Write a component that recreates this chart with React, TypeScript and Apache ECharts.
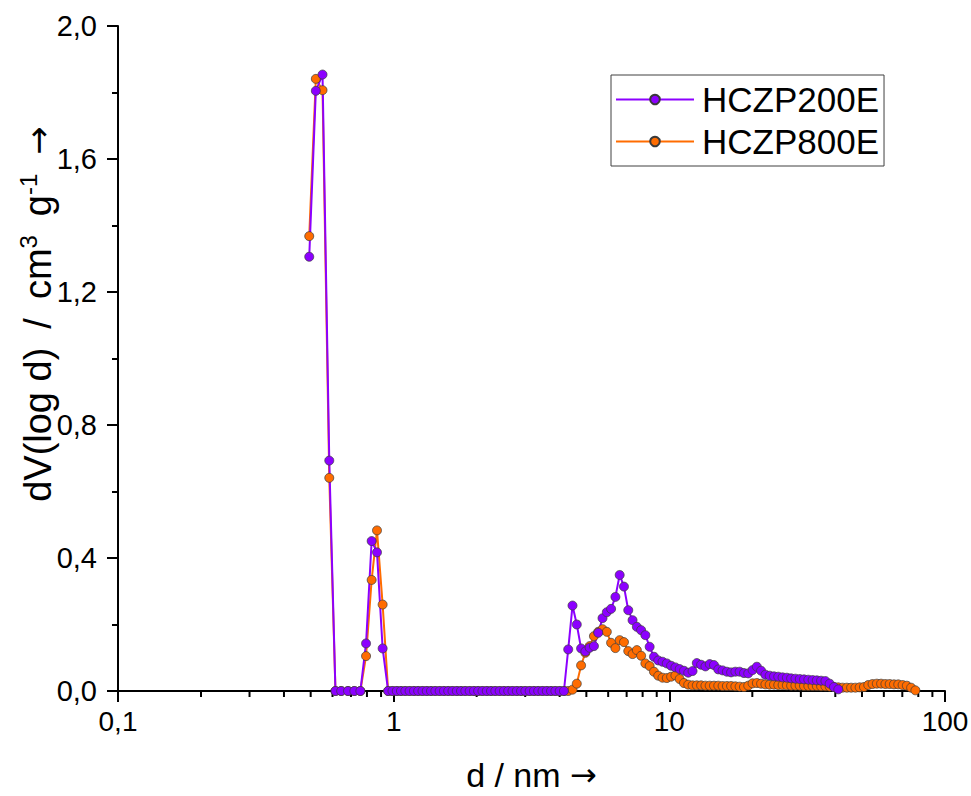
import React, { useEffect, useRef } from 'react';
import * as echarts from 'echarts';

// pore diameter d / nm (shared x grid of both samples)
const poreDiameter = [
  0.494, 0.522, 0.552, 0.584, 0.615, 0.645, 0.683, 0.720, 0.757, 0.794, 0.832, 0.870, 0.912,
  0.955, 0.990, 1.026, 1.063, 1.102, 1.142, 1.184, 1.227, 1.272, 1.318, 1.366, 1.416, 1.468, 1.521,
  1.577, 1.634, 1.694, 1.755, 1.819, 1.886, 1.954, 2.025, 2.099, 2.176, 2.255, 2.337, 2.423, 2.511,
  2.603, 2.697, 2.796, 2.898, 3.003, 3.113, 3.226, 3.344, 3.466, 3.592, 3.723, 3.859, 4.000, 4.146,
  4.297, 4.454, 4.616, 4.785, 4.959, 5.140, 5.327, 5.522, 5.723, 5.932, 6.148, 6.373, 6.605, 6.846,
  7.096, 7.355, 7.623, 7.901, 8.185, 8.484, 8.794, 9.115, 9.445, 9.789,
  10.15, 10.52, 10.90, 11.30, 11.71, 12.14, 12.58, 13.04, 13.52, 14.01, 14.52, 15.05, 15.60, 16.17,
  16.75, 17.36, 17.99, 18.65, 19.33, 20.04, 20.77, 21.52, 22.31, 23.12, 23.97, 24.84, 25.75, 26.69,
  27.66, 28.67, 29.72, 30.80, 31.93, 33.09, 34.28, 35.53, 36.83, 38.17, 39.56, 41.01,
  42.50, 44.05, 45.65, 47.31, 49.03, 50.82, 52.67, 54.59, 56.58, 58.64, 60.78, 62.99, 65.29, 67.67,
  70.15, 72.70, 75.35, 78.10,
];

// dV(log d) / cm3 g-1
const hczp200e = [
  1.306, 1.805, 1.854, 0.693, 0, 0, 0, 0, 0, 0.143, 0.451, 0.417, 0.128,
  0, 0, 0, 0, 0, 0, 0, 0, 0, 0, 0, 0, 0, 0, 0, 0, 0, 0, 0, 0, 0, 0, 0, 0, 0, 0, 0, 0,
  0, 0, 0, 0, 0, 0, 0, 0, 0, 0, 0, 0, 0, 0,
  0.125, 0.257, 0.200, 0.128, 0.119, 0.130, 0.135, 0.175, 0.219, 0.237, 0.247, 0.283, 0.349, 0.314,
  0.243, 0.213, 0.193, 0.183, 0.168, 0.133, 0.103, 0.092, 0.088, 0.083,
  0.076, 0.071, 0.066, 0.061, 0.055, 0.060, 0.084, 0.079, 0.074, 0.081, 0.078, 0.065, 0.062, 0.058,
  0.056, 0.058, 0.058, 0.054, 0.053, 0.063, 0.073, 0.061, 0.049, 0.046, 0.044, 0.043, 0.041, 0.040,
  0.038, 0.037, 0.036, 0.035, 0.034, 0.033, 0.032, 0.031, 0.030, 0.022, 0.012, 0.005,
];

const hczp800e = [
  1.368, 1.841, 1.807, 0.641, 0, 0, 0, 0, 0, 0.105, 0.334, 0.483, 0.260,
  0, 0, 0, 0, 0, 0, 0, 0, 0, 0, 0, 0, 0, 0, 0, 0, 0, 0, 0, 0, 0, 0, 0, 0, 0, 0, 0, 0,
  0, 0, 0, 0, 0, 0, 0, 0, 0, 0, 0, 0, 0, 0,
  0, 0.004, 0.022, 0.077, 0.115, 0.135, 0.165, 0.178, 0.186, 0.178, 0.145, 0.129, 0.153, 0.147,
  0.120, 0.111, 0.123, 0.106, 0.083, 0.075, 0.058, 0.046, 0.040, 0.039,
  0.043, 0.047, 0.036, 0.024, 0.019, 0.017, 0.017, 0.017, 0.016, 0.016, 0.016, 0.016, 0.015, 0.015,
  0.015, 0.014, 0.013, 0.012, 0.016, 0.023, 0.024, 0.022, 0.020, 0.019, 0.019, 0.018, 0.018, 0.017,
  0.016, 0.016, 0.016, 0.015, 0.015, 0.015, 0.015, 0.014, 0.014, 0.013, 0.012, 0.011,
  0.010, 0.010, 0.010, 0.010, 0.011, 0.012, 0.018, 0.021, 0.022, 0.022, 0.021, 0.021, 0.020, 0.020,
  0.018, 0.016, 0.010, 0.002,
];

const seriesNames = ['HCZP200E', 'HCZP800E'];
const xMinorTicks = [
  0.2, 0.3, 0.4, 0.5, 0.6, 0.7, 0.8, 0.9,
  2, 3, 4, 5, 6, 7, 8, 9,
  20, 30, 40, 50, 60, 70, 80, 90,
];

const FONT = "'Liberation Sans', Arial, sans-serif";
const ARROW_FONT = "'DejaVu Sans', sans-serif";
const PURPLE = '#8c00ff';
const ORANGE = '#ff6c00';
const SP = '\u2002';

export default function App() {
  const ref = useRef<HTMLDivElement>(null);

  useEffect(() => {
    if (!ref.current) return;
    const chart = echarts.init(ref.current, null, { renderer: 'svg' });
    const pairs = (vals: number[]) => vals.map((v, i) => [poreDiameter[i], v]);
    const axisLine = { lineStyle: { color: '#000', width: 2 } };
    const lineSeries = (name: string, vals: number[], color: string) => ({
      name,
      type: 'line',
      data: pairs(vals),
      symbol: 'circle',
      symbolSize: 9,
      showSymbol: true,
      lineStyle: { color, width: 2 },
      itemStyle: { color, borderColor: '#3a3a3a', borderWidth: 0.7 },
      emphasis: { disabled: true },
    });

    chart.setOption({
      animation: false,
      backgroundColor: '#fff',
      grid: { left: 118, right: 26, top: 26, bottom: 105, outerBoundsMode: 'none' },
      xAxis: {
        type: 'log',
        logBase: 10,
        min: 0.1,
        max: 100,
        name: 'd / nm {a|→}',
        nameLocation: 'middle',
        nameGap: 67,
        nameTextStyle: {
          fontSize: 34,
          fontFamily: FONT,
          color: '#000',
          rich: { a: { fontSize: 32, fontFamily: ARROW_FONT, color: '#000' } },
        },
        axisLine: { show: true, onZero: false, ...axisLine },
        axisTick: { show: true, length: 11, lineStyle: { color: '#000', width: 2 } },
        axisLabel: {
          fontSize: 28,
          fontFamily: FONT,
          color: '#000',
          margin: 16,
          formatter: (v: number) => String(Number(v.toPrecision(4))).replace('.', ','),
        },
        splitLine: { show: false },
        minorTick: { show: false },
      },
      yAxis: {
        type: 'value',
        min: 0,
        max: 2,
        interval: 0.4,
        axisLine: { show: true, ...axisLine },
        axisTick: { show: true, length: 11, lineStyle: { color: '#000', width: 2 } },
        minorTick: { show: true, splitNumber: 2, length: 6, lineStyle: { color: '#000', width: 2 } },
        axisLabel: {
          fontSize: 29,
          fontFamily: FONT,
          color: '#000',
          margin: 21,
          formatter: (v: number) => v.toFixed(1).replace('.', ','),
        },
        splitLine: { show: false },
      },
      legend: {
        data: seriesNames,
        orient: 'vertical',
        left: 611,
        top: 75,
        padding: [7, 5, 7, 4],
        itemWidth: 78,
        itemHeight: 12,
        itemGap: 7,
        borderColor: '#404040',
        borderWidth: 1,
        selectedMode: false,
        textStyle: { fontSize: 35, fontFamily: FONT, color: '#000', padding: [0, 0, 0, 3] },
      },
      graphic: [
        {
          type: 'text',
          x: 38,
          y: 314,
          rotation: Math.PI / 2,
          style: {
            text: `{m|dV(log d)${SP}/${SP}cm}{s|3}{m|${SP}g}{s|-1}{m|${SP}}{a|→}`,
            align: 'center',
            verticalAlign: 'middle',
            fill: '#000',
            rich: {
              m: { fontSize: 38, fontFamily: FONT, lineHeight: 44, fill: '#000' },
              s: { fontSize: 24, fontFamily: FONT, lineHeight: 24, verticalAlign: 'top', fill: '#000' },
              a: { fontSize: 34, fontFamily: ARROW_FONT, lineHeight: 44, fill: '#000' },
            },
          },
        },
      ],
      series: [
        lineSeries(seriesNames[1], hczp800e, ORANGE),
        lineSeries(seriesNames[0], hczp200e, PURPLE),
        {
          type: 'custom',
          silent: true,
          clip: false,
          data: xMinorTicks.map((v) => [v, 0]),
          encode: { x: 0, y: 1 },
          renderItem: (_params: any, api: any) => {
            const p = api.coord([api.value(0), 0]);
            return {
              type: 'line',
              shape: { x1: p[0], y1: p[1], x2: p[0], y2: p[1] + 6 },
              style: { stroke: '#000', lineWidth: 2 },
            };
          },
        },
      ],
    });

    return () => chart.dispose();
  }, []);

  return (
    <div
      ref={ref}
      style={{ position: 'absolute', left: 0, top: 0, width: 971, height: 796 }}
    />
  );
}
